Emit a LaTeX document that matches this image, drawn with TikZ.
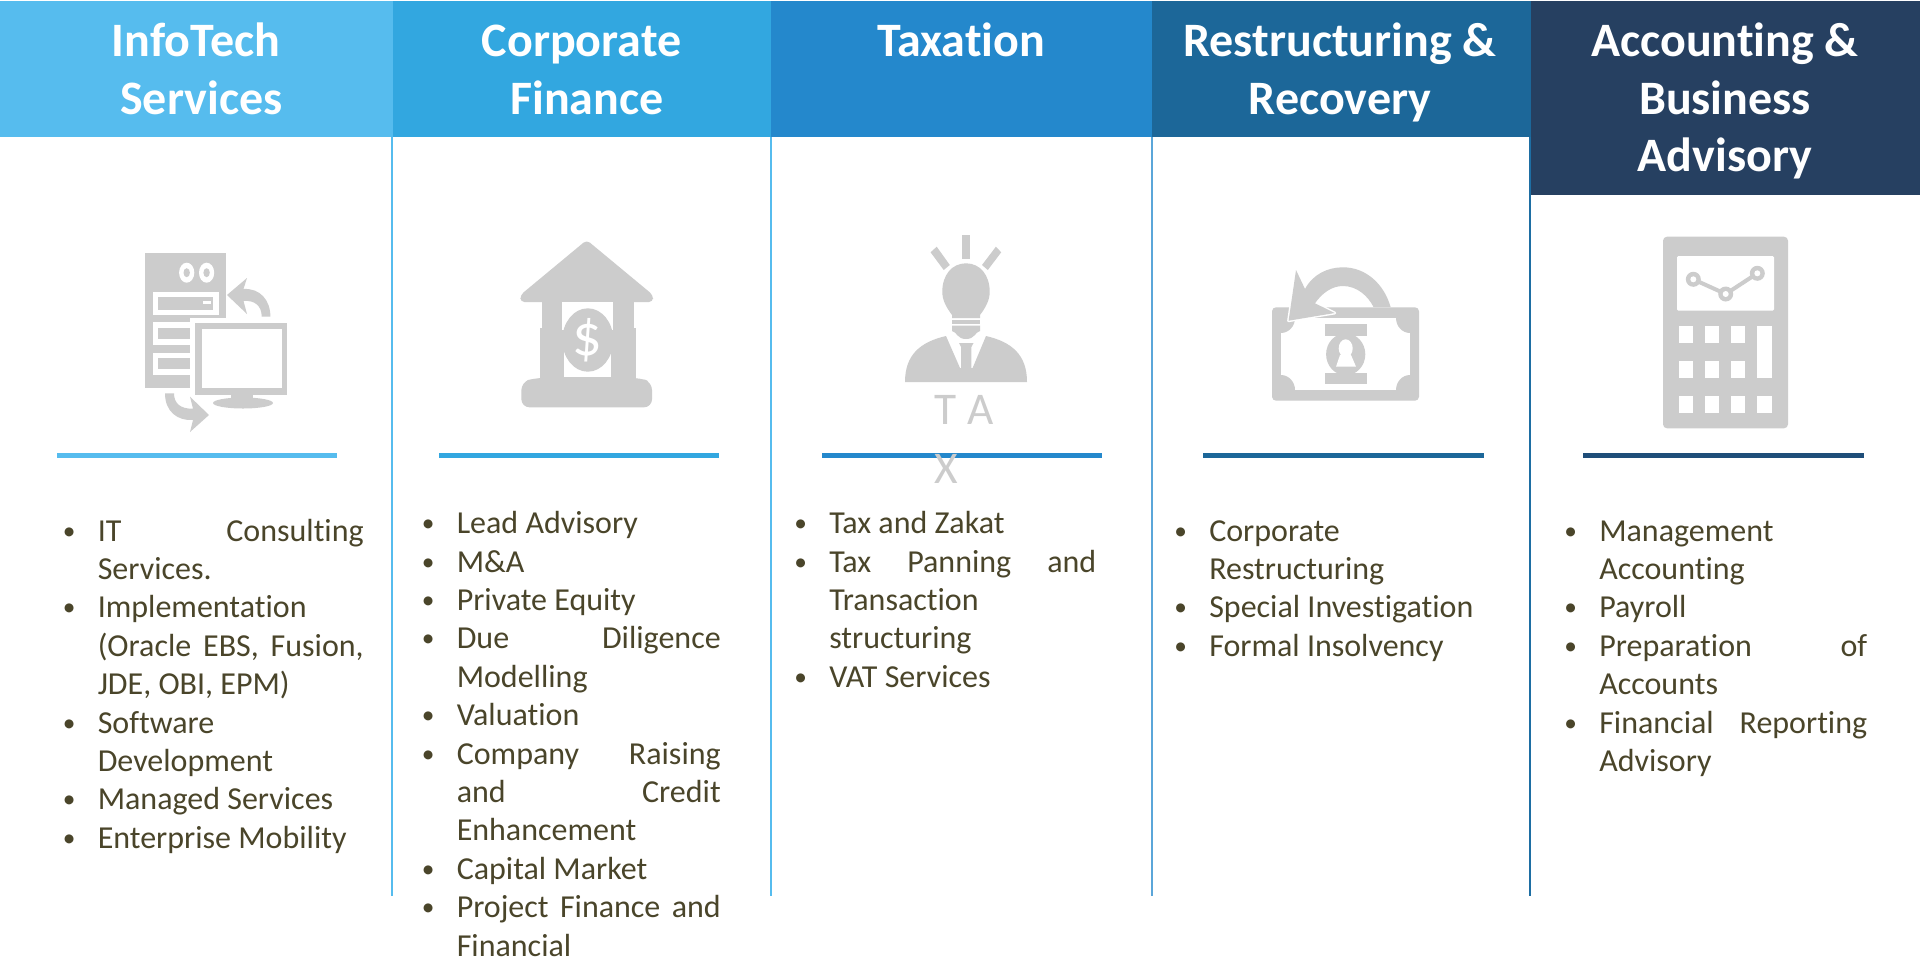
\documentclass[tikz,border=0pt]{standalone}
\usepackage{fontspec}
\setmainfont{Carlito}[Ligatures=NoCommon]
\definecolor{cone}{HTML}{56BCEE}
\definecolor{ctwo}{HTML}{32A7E0}
\definecolor{cthree}{HTML}{2488CC}
\definecolor{cfour}{HTML}{1C6799}
\definecolor{cfive}{HTML}{264061}
\definecolor{cfiveb}{HTML}{1F4E79}
\definecolor{txt}{HTML}{4A452A}
\definecolor{icon}{HTML}{CCCCCC}
\newlength{\hangw}\setlength{\hangw}{26.25pt}
\newcommand{\svc}[1]{\par\noindent\hangindent=\hangw\hangafter=1\makebox[\hangw][l]{\raisebox{1.5pt}{\fontsize{19}{19}\selectfont•}}#1\par}
\newcommand{\lineone}{\rule{0pt}{20pt}}
\newcommand{\headone}{\rule{0pt}{30pt}}
\tikzset{
  x=0.75pt,y=-0.75pt,
  head/.style={text=white,font=\fontsize{36}{43.1}\selectfont\bfseries,align=center,inner sep=0pt,anchor=north},
  list/.style={text=txt,font=\fontsize{24}{28.8}\selectfont,align=justify,inner sep=0pt,anchor=north west},
  ic/.style={fill=icon,draw=none},
  wh/.style={fill=white,draw=none},
  rulebar/.style={line width=3.2pt},
  divider/.style={line width=1.1pt}
}
\begin{document}
\begin{tikzpicture}
\useasboundingbox (0,0) rectangle (1920,957);
\fill[white] (0,0) rectangle (1920,957);
% headers
\fill[cone] (0,1) rectangle (393,137);
\fill[ctwo] (393,1) rectangle (771,137);
\fill[cthree] (771,1) rectangle (1152,137);
\fill[cfour] (1152,1) rectangle (1531,137);
% dividers
\draw[divider,color=cone] (392,137) -- (392,896);
\draw[divider,color=cone] (771,137) -- (771,896);
\draw[divider,color=cthree!75!white] (1152,137) -- (1152,896);
\draw[divider,color=cfour!80!cthree] (1530,137) -- (1530,896);
\fill[cfive] (1531,1) rectangle (1920,195);
\node[head] (h1) at (196,16.5) {\headone InfoTech\\\hspace*{8pt}Services};
\node[head] (h2) at (581.6,16.5) {\headone Corporate\\\hspace*{8pt}Finance};
\node[head] (h3) at (961,16.5) {\headone Taxation};
\node[head] (h4) at (1340,16.5) {\headone Restructuring \&\\Recovery};
\node[head] (h5) at (1725,16.5) {\headone Accounting \&\\Business\\Advisory};
% rules
\draw[rulebar,color=cone] (57,455.5) -- (337,455.5);
\draw[rulebar,color=ctwo] (439,455.5) -- (719,455.5);
\draw[rulebar,color=cthree] (822,455.5) -- (1102,455.5);
\draw[rulebar,color=cfour] (1203,455.5) -- (1484,455.5);
\draw[rulebar,color=cfiveb] (1583,455.5) -- (1864,455.5);
% lists
\node[list,text width=225.75pt] (l1) at (62.5,502.5) {%
\svc{\lineone IT Consulting\linebreak Services.}
\svc{Implementation\linebreak (Oracle EBS, Fusion,\linebreak JDE, OBI, EPM)}
\svc{Software\linebreak Development}
\svc{Managed Services}
\svc{Enterprise Mobility}};
\node[list,text width=224.25pt] (l2) at (421.5,495) {%
\svc{\lineone Lead Advisory}
\svc{M\&A}
\svc{Private Equity}
\svc{Due Diligence\linebreak Modelling}
\svc{Valuation}
\svc{Company Raising\linebreak and Credit\linebreak Enhancement}
\svc{Capital Market}
\svc{Project Finance and\linebreak Financial}};
\node[list,text width=226.5pt] (l3) at (794,495) {%
\svc{\lineone Tax and Zakat}
\svc{Tax Panning and\linebreak Transaction\linebreak structuring}
\svc{VAT Services}};
\node[list,text width=240pt] (l4) at (1174,502.5) {%
\svc{\lineone Corporate\linebreak Restructuring}
\svc{Special Investigation}
\svc{Formal Insolvency}};
\node[list,text width=227.25pt] (l5) at (1564,502.5) {%
\svc{\lineone Management\linebreak Accounting}
\svc{Payroll}
\svc{Preparation of\linebreak Accounts}
\svc{Financial Reporting\linebreak Advisory}};
% icon 1: server and monitor
\fill[ic] (145.4,253) rectangle (225.5,388);
\fill[wh] (186.7,272.7) ellipse [x radius=7.6,y radius=10];
\fill[wh] (206.6,272.7) ellipse [x radius=7.6,y radius=10];
\fill[ic] (186.7,272.7) ellipse [x radius=3.2,y radius=4.5];
\fill[ic] (206.6,272.7) ellipse [x radius=3.2,y radius=4.5];
\fill[wh] (153,291.7) rectangle (219.4,315);
\fill[ic] (158,296.7) rectangle (213,310);
\fill[wh] (202.5,301) rectangle (210.7,304.3);
\fill[wh] (153,322) rectangle (195,345);
\fill[ic] (158,327.7) rectangle (195,339.3);
\fill[wh] (153,352.7) rectangle (195,375);
\fill[ic] (158,357.7) rectangle (195,369.3);
\fill[wh] (190,318) rectangle (292,392);
\fill[ic] (195.4,323) rectangle (287,395);
\fill[wh] (201.5,329) rectangle (281.6,388);
\fill[ic] (230.6,395) rectangle (252.5,400);
\fill[ic] (243,403) ellipse [x radius=30,y radius=5.5];
\fill[ic] (247,278) -- (227,295) -- (247,314) -- (243.5,301) .. controls (255,300) and (261.7,306) .. (261.7,316.7) -- (270.4,316.7) .. controls (270.4,300) and (260,288) .. (243.5,289) -- cycle;
\fill[ic] (190,396.7) -- (209,415) -- (190,432) -- (193,420) .. controls (178,421) and (165,412) .. (165,393.3) -- (174,393.3) .. controls (174,403) and (180,409) .. (193,408.7) -- cycle;
% icon 2: bank
\fill[ic,rounded corners=3] (586.7,240) -- (653,295) -- (653,302) -- (520.4,302) -- (520.4,295) -- cycle;
\fill[ic] (541.8,300) rectangle (633.7,330);
\fill[ic] (540,328) rectangle (635.7,380);
\fill[wh] (562,302) rectangle (613,330);
\fill[wh] (564,328) rectangle (611,377);
\fill[ic] (587.8,340) ellipse [x radius=25.5,y radius=31.7];
\node[text=white,font=\fontsize{44}{44}\selectfont,inner sep=0pt] (dollar) at (587.8,340) {\$};
\fill[ic,rounded corners=6] (521.4,382) -- (535,378) -- (640,378) -- (652,382) -- (652,407.3) -- (521.4,407.3) -- cycle;
% icon 3: idea person
\fill[ic] (962,235) rectangle (969.8,259.3);
\fill[ic] (930.6,252.3) -- (936.7,246.7) -- (949.8,265) -- (943.7,270) -- cycle;
\fill[ic] (1001.2,252.3) -- (995.9,246.7) -- (982,265) -- (987.8,270) -- cycle;
\fill[ic] (952,318) -- (952,315) .. controls (946,307) and (942.3,300) .. (942.3,291.7) .. controls (942.3,275) and (952,263.3) .. (966,263.3) .. controls (980,263.3) and (989.7,275) .. (989.7,291.7) .. controls (989.7,300) and (986,307) .. (980,315) -- (980,318) -- cycle;
\fill[ic] (952,320) rectangle (980,323.5);
\fill[ic] (952,325.5) -- (980,325.5) -- (980,331) .. controls (975,332) and (975,339) .. (966,339) .. controls (957,339) and (957,332) .. (952,331) -- cycle;
\fill[ic] (946,336) .. controls (920,342) and (905,355) .. (905,382) -- (1027,382) .. controls (1027,355) and (1012,342) .. (986,336) -- (972.6,368) -- (960,368) -- cycle;
\fill[ic] (959,343) -- (973.5,343) -- (971.4,347) -- (971.4,370) -- (961,370) -- (961,347) -- cycle;
\node[text=icon,font=\fontsize{34}{44}\selectfont,align=left,inner sep=0pt,anchor=north west] (tax) at (934,395) {\rule{0pt}{21pt}T\hspace{1pt} A\\X};
% icon 4: money with arrow
\fill[ic,rounded corners=3] (1272,307.3) rectangle (1419,400.7);
\fill[wh] (1280.8,318) rectangle (1410,390);
\fill[ic] (1280.8,318) -- (1295,318) arc [start angle=0,end angle=90,x radius=14.2,y radius=15] -- cycle;
\fill[ic] (1410,318) -- (1396,318) arc [start angle=180,end angle=90,x radius=14,y radius=15] -- cycle;
\fill[ic] (1280.8,390) -- (1295,390) arc [start angle=0,end angle=-90,x radius=14.2,y radius=15] -- cycle;
\fill[ic] (1410,390) -- (1396,390) arc [start angle=180,end angle=270,x radius=14,y radius=15] -- cycle;
\fill[ic] (1324.5,324) rectangle (1367.3,335.7);
\fill[ic] (1324.5,372.7) rectangle (1367.3,384.3);
\fill[ic] (1345.7,354.3) ellipse [x radius=19.6,y radius=21];
\fill[wh] (1345.7,348.3) ellipse [x radius=7,y radius=9];
\fill[wh] (1340,355) -- (1351,355) -- (1356,366.7) -- (1336,366.7) -- cycle;
\path[draw=white,line width=2.2pt,line join=round] (1296,270) -- (1315,303.3) -- (1334.7,313) -- (1288.6,320.7) -- cycle;
\path[ic] (1296,270) -- (1305,289) .. controls (1313,274) and (1328,267.3) .. (1342.9,267.3) .. controls (1366,267.3) and (1384,284) .. (1390.6,307) -- (1373.5,307) .. controls (1368,296) and (1357,286) .. (1342.9,286) .. controls (1332,286) and (1322,293) .. (1315,303.3) -- (1334.7,313) -- (1288.6,320.7) -- cycle;
% icon 5: calculator
\fill[ic,rounded corners=3] (1663,236.7) rectangle (1788,428.3);
\fill[wh,rounded corners=1] (1677,256) rectangle (1774,310.7);
\draw[icon,line width=3pt] (1693.3,279.3) -- (1725.7,294) -- (1757.3,273.3);
\fill[ic] (1693.3,279.3) circle [radius=7.5];
\fill[ic] (1725.7,294) circle [radius=7.5];
\fill[ic] (1757.3,273.3) circle [radius=7.5];
\fill[wh] (1693.3,279.3) circle [radius=3];
\fill[wh] (1725.7,294) circle [radius=3];
\fill[wh] (1757.3,273.3) circle [radius=3];
\foreach \kx in {1679,1705,1731}{
  \foreach \ky in {326,361,396}{
    \fill[wh] (\kx,\ky) rectangle ++(14.3,17.3);
  }
}
\fill[wh] (1757.3,326) rectangle (1772,378.3);
\fill[wh] (1757.3,396) rectangle (1772,413.3);
\end{tikzpicture}
\end{document}
